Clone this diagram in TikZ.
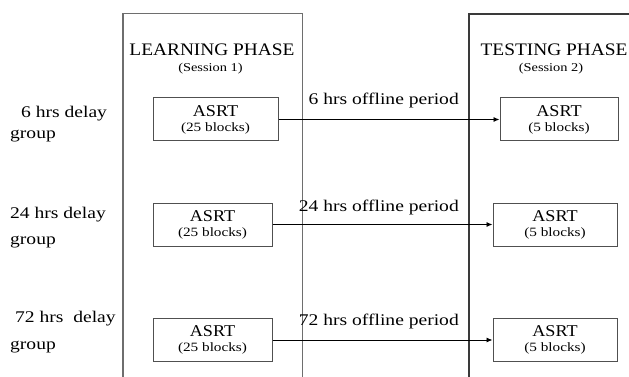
\documentclass[tikz,border=0pt]{standalone}
\usepackage{fontspec}
\setmainfont{Liberation Serif}
\newfontfamily\labfont[FakeStretch=1.2]{Liberation Serif}
\newfontfamily\titfont[FakeStretch=1.1]{Liberation Serif}
\usetikzlibrary{arrows.meta}
\definecolor{phasegray}{HTML}{6E6E6E}
\definecolor{phasedark}{HTML}{3A3A3A}
\definecolor{boxgray}{HTML}{505050}
\begin{document}
\begin{tikzpicture}[x=1pt,y=-1pt,
  labtxt/.style={font=\labfont\fontsize{16.3}{18}\selectfont, inner sep=0pt},
  tittxt/.style={font=\titfont\fontsize{17.6}{20}\selectfont, inner sep=0pt, anchor=base},
  sesstxt/.style={font=\labfont\fontsize{12}{14}\selectfont, inner sep=0pt, anchor=base},
  asrtbox/.style={draw=boxgray, line width=1pt, minimum height=43pt, inner sep=0pt,
    align=center, font=\titfont\fontsize{16.5}{15}\selectfont},
  flow/.style={draw=black, line width=0.9pt, -{Latex[length=6pt,width=5pt]}}
]
\useasboundingbox (0,0) rectangle (629,377);
\fill[white] (0,0) rectangle (629,377);

% phase frames
\draw[phasegray, line width=1.2pt] (123,377) -- (123,13.5) -- (302.5,13.5) -- (302.5,377);
\draw[phasedark, line width=1.1pt] (469,377) -- (469,14) -- (629,14);

% phase titles
\node[tittxt] (learn) at (212,56) {LEARNING PHASE};
\node[sesstxt] (sess1) at (210.5,72) {(Session 1)};
\node[tittxt] (test) at (554,56) {TESTING PHASE};
\node[sesstxt] (sess2) at (551,72) {(Session 2)};

% learning boxes
\node[asrtbox, minimum width=125pt] (l1) at (215.5,119.5) {ASRT\\{\labfont\fontsize{12.7}{15}\selectfont (25 blocks)}};
\node[asrtbox, minimum width=119pt] (l2) at (212.5,224.5) {ASRT\\{\labfont\fontsize{12.7}{15}\selectfont (25 blocks)}};
\node[asrtbox, minimum width=119pt] (l3) at (212.5,340) {ASRT\\{\labfont\fontsize{12.7}{15}\selectfont (25 blocks)}};

% testing boxes
\node[asrtbox, minimum width=118pt] (t1) at (559,119.5) {ASRT\\{\labfont\fontsize{12.7}{15}\selectfont (5 blocks)}};
\node[asrtbox, minimum width=124pt] (t2) at (555,224.5) {ASRT\\{\labfont\fontsize{12.7}{15}\selectfont (5 blocks)}};
\node[asrtbox, minimum width=124pt] (t3) at (555,340) {ASRT\\{\labfont\fontsize{12.7}{15}\selectfont (5 blocks)}};

% connectors
\draw[flow] (l1.east) -- (t1.west);
\draw[flow] (l2.east) -- (t2.west);
\draw[flow] (l3.east) -- (t3.west);

% offline period labels
\node[labtxt, anchor=base east] (o1) at (459,105) {6 hrs offline period};
\node[labtxt, anchor=base east] (o2) at (459,211) {24 hrs offline period};
\node[labtxt, anchor=base east] (o3) at (459,325) {72 hrs offline period};

% group labels
\node[labtxt, anchor=base west] (g1a) at (21,118) {6 hrs delay};
\node[labtxt, anchor=base west] (g1b) at (10,139) {group};
\node[labtxt, anchor=base west] (g2a) at (10,218) {24 hrs delay};
\node[labtxt, anchor=base west] (g2b) at (10,244) {group};
\node[labtxt, anchor=base west] (g3a) at (15,322) {72 hrs\ \ delay};
\node[labtxt, anchor=base west] (g3b) at (10,349) {group};
\end{tikzpicture}
\end{document}
